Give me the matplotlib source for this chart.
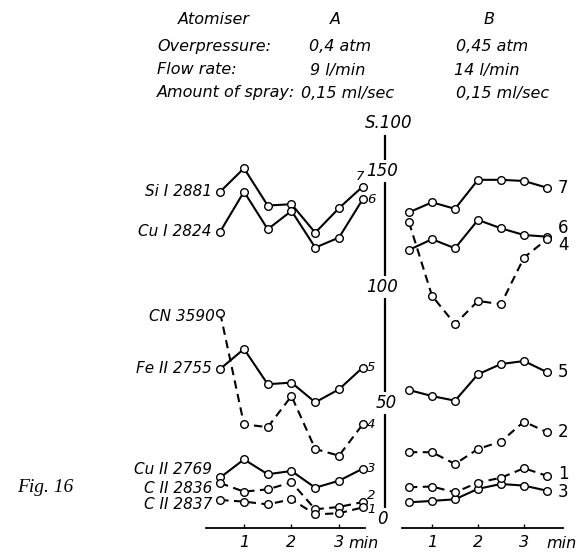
import matplotlib
matplotlib.use("Agg")
import matplotlib.pyplot as plt
from matplotlib.transforms import blended_transform_factory, offset_copy

# ---- data -------------------------------------------------------------
minutes = [0.5, 1.0, 1.5, 2.0, 2.5, 3.0, 3.5]
time_ticks = [1, 2, 3]
scale_ticks = [0, 50, 100, 150]

# Atomiser A (S x 100)
si_2881_a = [141.1, 151.2, 135.1, 135.7, 123.4, 134.0, 143.3]
cu_2824_a = [123.9, 141.1, 124.9, 132.8, 117.0, 121.3, 137.8]
cn_3590_a = [88.7, 40.8, 39.6, 53.0, 30.2, 27.3, 40.8]
fe_2755_a = [64.7, 73.3, 58.1, 58.8, 50.3, 55.9, 65.3]
cu_2769_a = [17.9, 25.7, 19.3, 20.7, 13.5, 16.5, 21.7]
c_2836_a = [15.5, 11.8, 12.8, 15.8, 4.2, 5.2, 7.3]
c_2837_a = [8.2, 7.5, 6.3, 8.5, 2.0, 2.5, 5.0]

# Atomiser B (S x 100)
si_2881_b = [132.2, 136.5, 133.7, 146.2, 146.2, 145.7, 142.8]
cu_2824_b = [116.0, 120.6, 116.7, 128.9, 125.3, 122.4, 121.7]
cn_3590_b = [127.9, 96.2, 84.0, 94.0, 92.6, 112.7, 120.6]
fe_2755_b = [55.6, 53.0, 51.0, 62.4, 66.8, 68.1, 63.3]
c_2836_b = [28.8, 28.8, 23.7, 30.2, 33.4, 42.0, 37.4]
c_2837_b = [13.7, 14.0, 11.5, 15.7, 17.8, 21.9, 18.6]
cu_2769_b = [7.2, 7.8, 8.5, 13.0, 15.1, 14.4, 12.2]

line_names = ["Si I 2881", "Cu I 2824", "CN 3590", "Fe II 2755",
              "Cu II 2769", "C II 2836", "C II 2837"]
curve_numbers = ["7", "6", "4", "5", "3", "2", "1"]
dashed = [False, False, True, False, False, True, True]

header_rows = ["Overpressure:", "Flow rate:", "Amount of spray:"]
header_a = ["0,4 atm", "9 l/min", "0,15 ml/sec"]
header_b = ["0,45 atm", "14 l/min", "0,15 ml/sec"]

# ---- figure -----------------------------------------------------------
W, H = 581, 553
fig = plt.figure(figsize=(W / 100, H / 100), dpi=100)
fig.patch.set_facecolor("white")

def fx(px):
    return px / W

def fy(py):
    return 1 - py / H

TXT = dict(family="DejaVu Sans", style="italic", color="black")

YLIM = (-4, 165)
ax_bot, ax_top = 528.3, 136.2
ax_h = (ax_bot - ax_top) / H

axA = fig.add_axes([fx(206), fy(ax_bot), (365.1 - 206) / W, ax_h])
axA.set_xlim(0.2, 3.55)
axB = fig.add_axes([fx(402.1), fy(ax_bot), 161.0 / W, ax_h])
axB.set_xlim(0.35, 3.85)
axS = fig.add_axes([fx(385), fy(ax_bot), 0.002, ax_h])

for ax in (axA, axB, axS):
    ax.set_ylim(*YLIM)
    ax.patch.set_visible(False)
    for s in ("top", "right", "left"):
        ax.spines[s].set_visible(False)
    ax.set_yticks([])

for ax in (axA, axB):
    ax.spines["bottom"].set_linewidth(1.3)
    ax.set_xticks(time_ticks)
    ax.set_xticklabels([str(t) for t in time_ticks])
    ax.tick_params(axis="x", direction="in", length=3, width=1.0,
                   pad=5, labelsize=11.5)
    for lab in ax.get_xticklabels():
        lab.set_fontstyle("italic")

# central scale axis
axS.spines["bottom"].set_visible(False)
axS.spines["left"].set_visible(True)
axS.spines["left"].set_linewidth(1.6)
axS.spines["left"].set_bounds(4.7, 165)
axS.set_xticks([])
trS = blended_transform_factory(axS.transAxes, axS.transData)
for v in scale_ticks:
    shift = 1 if v == 50 else -2
    axS.text(0, v, str(v), ha="center", va="center", fontsize=12, zorder=5,
             clip_on=False,
             transform=offset_copy(trS, fig=fig, x=shift, y=0, units="points"),
             bbox=dict(boxstyle="square,pad=0.12", fc="white", ec="none"),
             **TXT)
fig.text(fx(389), fy(123), "S.100", ha="center", va="center", fontsize=12, **TXT)

# ---- curves -----------------------------------------------------------
def draw(ax, series):
    for vals, dash in zip(series, dashed):
        kw = dict(color="black", lw=1.5, marker="o", ms=5.5, mfc="white",
                  mec="black", mew=1.0, clip_on=False, zorder=3)
        if dash:
            ax.plot(minutes, vals, linestyle=(0, (4, 2.6)), **kw)
        else:
            ax.plot(minutes, vals, linestyle="-", **kw)

series_a = [si_2881_a, cu_2824_a, cn_3590_a, fe_2755_a,
            cu_2769_a, c_2836_a, c_2837_a]
series_b = [si_2881_b, cu_2824_b, cn_3590_b, fe_2755_b,
            cu_2769_b, c_2836_b, c_2837_b]
draw(axA, series_a)
draw(axB, series_b)

# spectral line names at the start of each A curve
name_offsets = [(-6, 0), (-6, 0), (-4, -2), (-6, 0), (-6, 5.4), (-6, -3.6), (-6, -3.6)]
for vals, name, (dx, dy) in zip(series_a, line_names, name_offsets):
    axA.annotate(name, xy=(minutes[0], vals[0]), xytext=(dx, dy),
                 textcoords="offset points", ha="right", va="center",
                 fontsize=11, annotation_clip=False, **TXT)

# curve numbers at the end of the A curves
num_offsets_a = [(-2, 7, "center"), (3, 0, "left"), (3, 0, "left"),
                 (3, 0, "left"), (3, 0, "left"), (3, 5, "left"), (3, -1.8, "left")]
for vals, num, (dx, dy, ha) in zip(series_a, curve_numbers, num_offsets_a):
    axA.annotate(num, xy=(minutes[-1], vals[-1]), xytext=(dx, dy),
                 textcoords="offset points", ha=ha, va="center",
                 fontsize=9.5, annotation_clip=False, **TXT)

# curve numbers at the end of the B curves
num_offsets_b = [0, 6.5, -4.5, 0, -1, 0, 1]
for vals, num, dy in zip(series_b, curve_numbers, num_offsets_b):
    axB.annotate(num, xy=(minutes[-1], vals[-1]), xytext=(8, dy),
                 textcoords="offset points", ha="left", va="center",
                 fontsize=12, annotation_clip=False,
                 family="DejaVu Sans", color="black")

# time unit labels
fig.text(fx(364), fy(544), "min", ha="center", va="center", fontsize=11.5, **TXT)
fig.text(fx(562), fy(544), "min", ha="center", va="center", fontsize=11.5, **TXT)

# ---- header -----------------------------------------------------------
fig.text(fx(178), fy(20), "Atomiser", ha="left", va="center", fontsize=11.5, **TXT)
fig.text(fx(335), fy(20), "A", ha="center", va="center", fontsize=11.5, **TXT)
fig.text(fx(489), fy(20), "B", ha="center", va="center", fontsize=11.5, **TXT)
for i, (row, a, b) in enumerate(zip(header_rows, header_a, header_b)):
    y = [47, 70, 93][i]
    fig.text(fx(157), fy(y), row, ha="left", va="center", fontsize=11.5, **TXT)
    fig.text(fx([309, 310, 301][i]), fy(y), a, ha="left", va="center",
             fontsize=11.5, **TXT)
    fig.text(fx([456, 454, 456][i]), fy(y), b, ha="left", va="center",
             fontsize=11.5, **TXT)

fig.text(fx(45), fy(488), "Fig. 16", ha="center", va="center", fontsize=14,
         family="Liberation Serif", style="italic")

fig.savefig("out.png", dpi=100, facecolor="white")
